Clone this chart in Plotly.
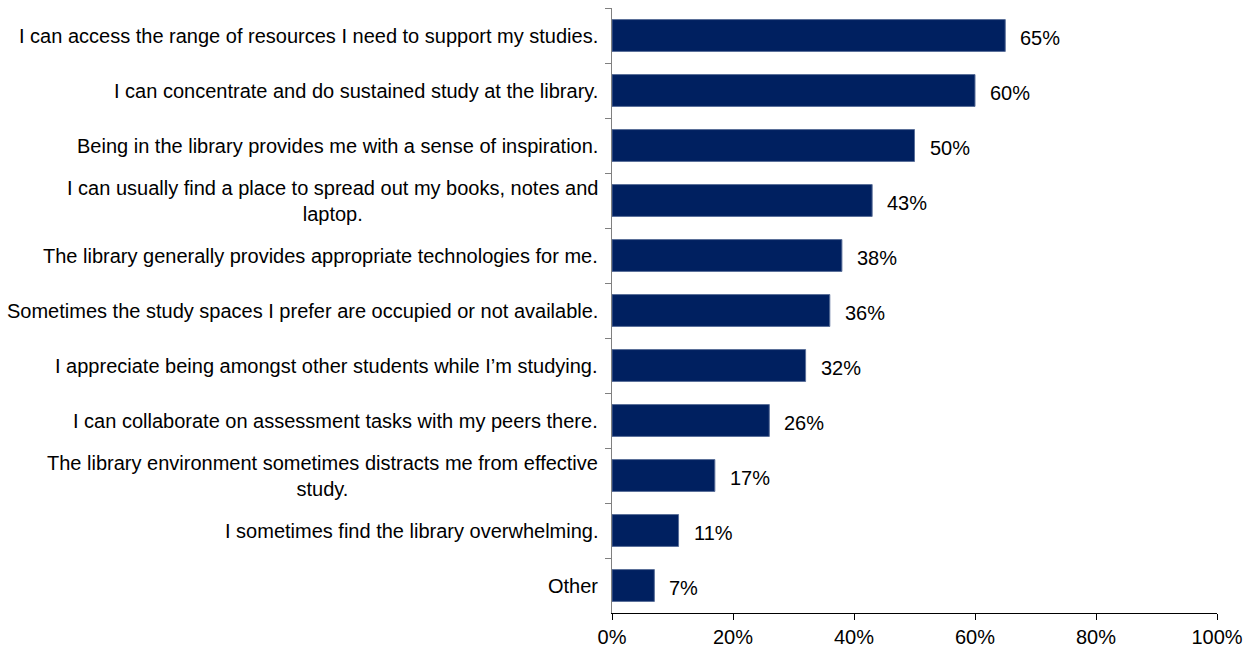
import plotly.graph_objects as go

categories = [
    "I can access the range of resources I need to support my studies.",
    "I can concentrate and do sustained study at the library.",
    "Being in the library provides me with a sense of inspiration.",
    "I can usually find a place to spread out my books, notes and<br>laptop.",
    "The library generally provides appropriate technologies for me.",
    "Sometimes the study spaces I prefer are occupied or not available.",
    "I appreciate being amongst other students while I\u2019m studying.",
    "I can collaborate on assessment tasks with my peers there.",
    "The library environment sometimes distracts me from effective<br>study.",
    "I sometimes find the library overwhelming.",
    "Other",
]
values = [65, 60, 50, 43, 38, 36, 32, 26, 17, 11, 7]
x_ticks = [0, 20, 40, 60, 80, 100]

BAR = "#002060"
LABEL_FONT = "Liberation Sans"

fig = go.Figure(
    go.Bar(
        x=values,
        y=categories,
        orientation="h",
        marker=dict(color=BAR, line=dict(color="#5a6f99", width=1)),
        hoverinfo="skip",
    )
)

# Category labels: right-anchored blocks, wrapped lines centred
for cat in categories:
    fig.add_annotation(
        x=0, xref="paper", y=cat, yref="y",
        text=cat, showarrow=False,
        xanchor="right", yanchor="middle", align="center",
        xshift=-12,
        font=dict(family=LABEL_FONT, size=20, color="#000000"),
    )

# Value labels just past the end of each bar
for cat, v in zip(categories, values):
    fig.add_annotation(
        x=v, xref="x", y=cat, yref="y",
        text=f"{v}%", showarrow=False,
        xanchor="left", yanchor="middle",
        xshift=13, yshift=-2,
        font=dict(family=LABEL_FONT, size=20, color="#000000"),
    )

fig.update_layout(
    width=1255, height=655,
    margin=dict(l=612, r=38, t=8, b=42),
    paper_bgcolor="white", plot_bgcolor="white",
    showlegend=False,
    bargap=0.42,
    xaxis=dict(
        range=[0, 100],
        tickvals=x_ticks,
        ticktext=[f"{t}%" for t in x_ticks],
        showgrid=False, zeroline=False,
        showline=True, linecolor="#000000", linewidth=1,
        ticks="outside", ticklen=6, tickcolor="#000000",
        tickfont=dict(family=LABEL_FONT, size=20, color="#000000"),
    ),
    yaxis=dict(
        autorange="reversed",
        showticklabels=False,
        showgrid=False, zeroline=False,
        showline=True, linecolor="#808080", linewidth=1,
        ticks="outside", ticklen=6, tickcolor="#808080",
        tickson="boundaries",
    ),
)

fig.write_html("out.html")
